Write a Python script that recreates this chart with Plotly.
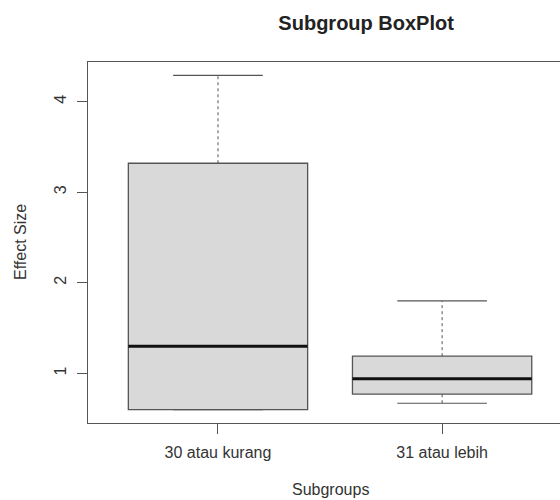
import plotly.graph_objects as go

categories = ["30 atau kurang", "31 atau lebih"]
positions = [1, 2]
q1 = [0.60, 0.77]
median = [1.30, 0.94]
q3 = [3.32, 1.19]
lower_whisker = [0.60, 0.67]
upper_whisker = [4.29, 1.80]

LINE = "#555555"
FILL = "#d9d9d9"
FONT = "Liberation Sans, Arial, sans-serif"
BOXW = 0.8
CAPW = 0.4

fig = go.Figure()
for i, x in enumerate(positions):
    fig.add_trace(go.Box(
        x=[x], q1=[q1[i]], median=[median[i]], q3=[q3[i]],
        lowerfence=[q1[i]], upperfence=[q3[i]],
        width=BOXW, whiskerwidth=0, fillcolor=FILL,
        line=dict(color=LINE, width=1.3), showlegend=False, hoverinfo="skip",
    ))
    # dashed whiskers
    fig.add_trace(go.Scatter(x=[x, x], y=[q3[i], upper_whisker[i]], mode="lines",
                             line=dict(color=LINE, width=1, dash="3px,3px"),
                             showlegend=False, hoverinfo="skip"))
    fig.add_trace(go.Scatter(x=[x, x], y=[q1[i], lower_whisker[i]], mode="lines",
                             line=dict(color=LINE, width=1, dash="3px,3px"),
                             showlegend=False, hoverinfo="skip"))
    # caps
    for yv in (upper_whisker[i], lower_whisker[i]):
        fig.add_trace(go.Scatter(x=[x - CAPW / 2, x + CAPW / 2], y=[yv, yv], mode="lines",
                                 line=dict(color=LINE, width=1.2),
                                 showlegend=False, hoverinfo="skip"))
    # median
    fig.add_trace(go.Scatter(x=[x - BOXW / 2, x + BOXW / 2], y=[median[i], median[i]], mode="lines",
                             line=dict(color="#111111", width=3),
                             showlegend=False, hoverinfo="skip"))

fig.update_layout(
    width=560, height=500,
    margin=dict(l=88, r=0, t=62, b=77),
    paper_bgcolor="white", plot_bgcolor="white",
    font=dict(family=FONT, size=16, color="#333333"),
    title=dict(text="<b>Subgroup BoxPlot</b>", x=330 / 560, xanchor="center",
               xref="paper", yref="container", y=1 - 23 / 500, yanchor="middle",
               font=dict(size=20, color="#222222", family=FONT)),
    xaxis=dict(range=[0.42, 2.526], tickvals=positions, ticktext=categories,
               showgrid=False, zeroline=False, showline=True, mirror=True,
               linecolor=LINE, linewidth=1.2, ticks="outside", ticklen=10,
               tickcolor=LINE, ticklabelstandoff=5),
    yaxis=dict(range=[0.452, 4.438], tickvals=[1, 2, 3, 4],
               showgrid=False, zeroline=False, showline=True, mirror=False,
               linecolor=LINE, linewidth=1.2, ticks="outside", ticklen=10,
               tickcolor=LINE, tickangle=-90, ticklabelstandoff=5),
    annotations=[
        dict(text="Subgroups", xref="paper", yref="paper", x=(330 - 88) / 472, y=0,
             yshift=-(489 - 423), xanchor="center", yanchor="middle", showarrow=False,
             font=dict(size=16, family=FONT, color="#333333")),
        dict(text="Effect Size", xref="paper", yref="paper", x=0, xshift=-(88 - 20),
             y=(423 - 242) / 361, xanchor="center", yanchor="middle", textangle=-90,
             showarrow=False, font=dict(size=16, family=FONT, color="#333333")),
    ],
)

fig.write_html("out.html", config={"displayModeBar": False},
               post_script="document.body.style.margin='0px';")
